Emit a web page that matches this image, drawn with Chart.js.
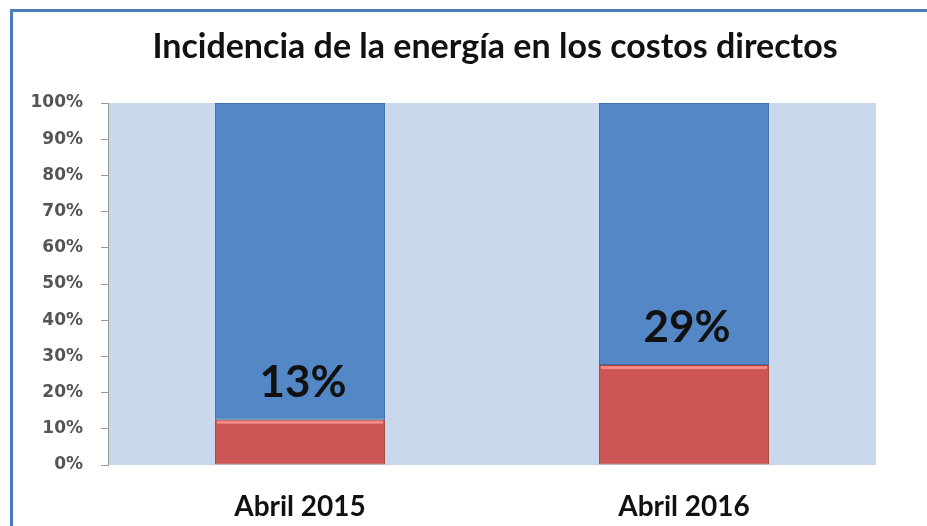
<!DOCTYPE html>
<html><head><meta charset="utf-8">
<script src="https://cdn.jsdelivr.net/npm/chart.js@4/dist/chart.umd.min.js"></script>
<style>html,body{margin:0;padding:0;background:#fff}#wrap{width:927px;height:526px;position:relative}</style>
</head><body><div id="wrap"><canvas id="c" width="927" height="526"></canvas></div>
<script>
const title = "Incidencia de la energía en los costos directos";
const categories = ["Abril 2015", "Abril 2016"];
const energyShare = [12.5, 27.6];
const otherShare = [87.5, 72.4];
const shareLabels = ["13%", "29%"];
const yTicks = [0,10,20,30,40,50,60,70,80,90,100];

const plotBg = {
  id: 'plotBg',
  beforeDraw(chart) {
    const {ctx, chartArea: a} = chart;
    ctx.save();
    ctx.fillStyle = '#fff';
    ctx.fillRect(0,0,chart.width,chart.height);
    ctx.strokeStyle = '#4a7ebb';
    ctx.lineWidth = 3;
    ctx.strokeRect(11.5, 10.5, chart.width + 20, chart.height + 20);
    ctx.fillStyle = '#c9d8ea';
    ctx.fillRect(a.left, a.top, a.right - a.left, a.bottom - a.top);
    ctx.font = 'bold 34px Lato';
    ctx.fillStyle = '#111';
    ctx.textAlign = 'center';
    ctx.textBaseline = 'middle';
    ctx.fillText(title, (a.left + a.right) / 2 + 3, 47);
    ctx.restore();
  }
};
const valueLabels = {
  id: 'valueLabels',
  afterDatasetsDraw(chart) {
    const {ctx} = chart;
    const meta = chart.getDatasetMeta(0);
    ctx.save();
    // light highlight along top of red bars
    meta.data.forEach(bar => {
      ctx.fillStyle = 'rgba(255,150,150,0.8)';
      ctx.fillRect(bar.x - bar.width / 2 + 2, bar.y + 1, bar.width - 4, 3);
    });
    ctx.font = 'bold 44px Lato';
    ctx.fillStyle = '#111';
    ctx.textAlign = 'center';
    ctx.textBaseline = 'middle';
    meta.data.forEach((bar, i) => {
      ctx.fillText(shareLabels[i], bar.x + 3, bar.y - 37);
    });
    ctx.restore();
  }
};

const barCommon = {categoryPercentage: 1, barPercentage: 0.443, borderWidth: 1, borderSkipped: false};
new Chart(document.getElementById('c'), {
  type: 'bar',
  data: {
    labels: categories,
    datasets: [
      Object.assign({label: 'Energía', data: energyShare, backgroundColor: '#cb5653', borderColor: '#a8403d'}, barCommon),
      Object.assign({label: 'Otros', data: otherShare, backgroundColor: '#5487c6', borderColor: '#3f6ea8'}, barCommon)
    ]
  },
  options: {
    responsive: false,
    animation: false,
    layout: {padding: {left: 20, right: 51, top: 103, bottom: 0}},
    plugins: {
      legend: {display: false},
      tooltip: {enabled: false},
      title: {display: false}
    },
    scales: {
      x: {
        stacked: true,
        grid: {display: false},
        border: {display: false},
        ticks: {color: '#111', font: {family: 'Lato', size: 28, weight: 'bold'}, padding: 17},
        afterFit(s) { s.height = 61; }
      },
      y: {
        stacked: true, min: 0, max: 100,
        afterBuildTicks(s) { s.ticks = yTicks.map(v => ({value: v})); },
        grid: {drawOnChartArea: false, tickLength: 7, color: '#999'},
        border: {display: true, color: '#999'},
        ticks: {color: '#555', font: {family: 'DejaVu Sans', size: 17, weight: 'bold'}, padding: 18, callback: v => v + '%'},
        afterFit(s) { s.width = 88; }
      }
    }
  },
  plugins: [plotBg, valueLabels]
});
</script></body></html>
